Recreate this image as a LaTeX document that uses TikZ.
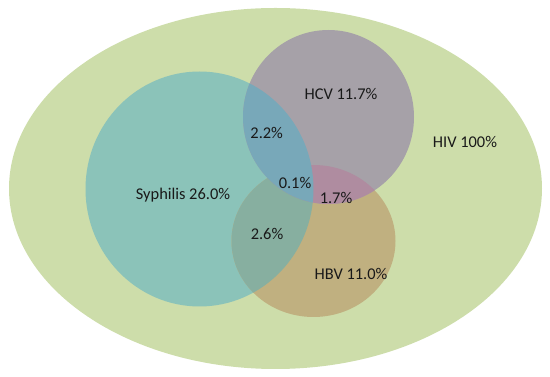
\documentclass[tikz,border=0pt]{standalone}
\usepackage{fontspec}
\setmainfont{Carlito}
\usetikzlibrary{positioning}

\definecolor{hivgreen}{HTML}{CDDDAA}
\definecolor{syphteal}{HTML}{8BC3B9}
\definecolor{hcvgray}{HTML}{A6A1A8}
\definecolor{hbvtan}{HTML}{C0B080}
\definecolor{syphhcv}{HTML}{78A8B9}
\definecolor{syphhbv}{HTML}{87AFA0}
\definecolor{hcvhbv}{HTML}{AF8CA0}

\newcommand{\syphpath}{(syph) ellipse [x radius=114, y radius=117.5]}
\newcommand{\hcvpath}{(hcv) ellipse [x radius=85.5, y radius=87]}
\newcommand{\hbvpath}{(hbv) ellipse [x radius=82, y radius=76]}

\begin{document}
\begin{tikzpicture}[x=0.03cm, y=-0.03cm,
    every node/.style={align=center, font=\fontsize{14}{16}\selectfont, text=black!90}]
    \useasboundingbox (0,0) rectangle (550,377);
    \coordinate (hiv) at (275.5,188.5);
    \coordinate (syph) at (199.5,189);
    \coordinate (hcv) at (328.5,117);
    \coordinate (hbv) at (313.5,241);
    % HIV ellipse
    \fill[hivgreen] (hiv) ellipse [x radius=266.5, y radius=180.5];
    % Syphilis, HCV and HBV
    \fill[syphteal] \syphpath;
    \fill[hbvtan] \hbvpath;
    \fill[hcvgray] \hcvpath;
    % Overlaps
    \begin{scope}
        \clip \syphpath;
        \fill[syphhbv] \hbvpath;
    \end{scope}
    \begin{scope}
        \clip \hcvpath;
        \fill[hcvhbv] \hbvpath;
    \end{scope}
    \begin{scope}
        \clip \syphpath;
        \fill[syphhcv] \hcvpath;
    \end{scope}
    % Labels
    \node (hivlabel) at (465,142) {HIV 100\%};
    \node (hcvlabel) at (341,93.5) {HCV 11.7\%};
    \node (hbvlabel) at (351,274) {HBV 11.0\%};
    \node (syphlabel) at (183,195) {Syphilis 26.0\%};
    \node (syphhcvlabel) at (266.7,133.3) {2.2\%};
    \node (syphhbvlabel) at (267,234) {2.6\%};
    \node (alllabel) at (295,182.7) {0.1\%};
    \node (hcvhbvlabel) at (336,198) {1.7\%};
\end{tikzpicture}
\end{document}
